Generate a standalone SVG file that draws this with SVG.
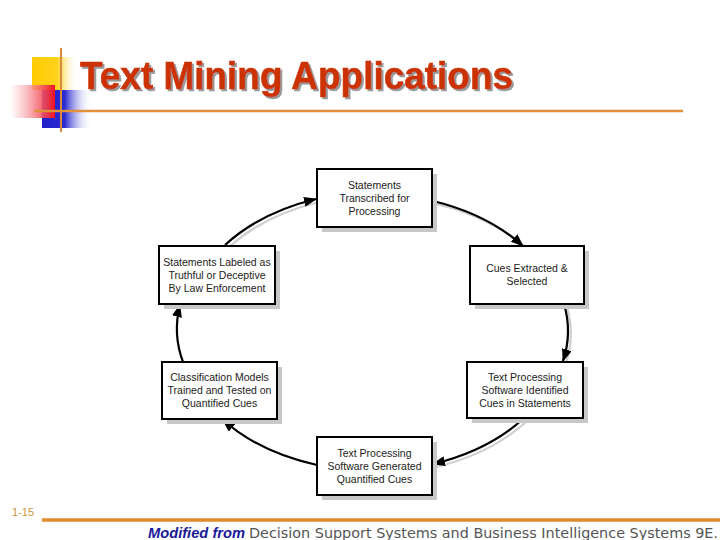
<svg xmlns="http://www.w3.org/2000/svg" width="720" height="540" viewBox="0 0 720 540">
<defs>
<style>
.box{fill:#fff;stroke:#000;stroke-width:2}
.shd{fill:#c8c8c8}
.lbl{font-family:"Liberation Sans",Arial,sans-serif;font-size:10.5px;fill:#222;text-anchor:middle}
.arc{fill:none;stroke:#000;stroke-width:2.2}
.arcs{fill:none;stroke:#cfcfcf;stroke-width:2.2}
</style>
<filter id="tshadow" x="-5%" y="-20%" width="110%" height="140%">
<feFlood flood-color="#999999" result="c"/>
<feComposite in="c" in2="SourceAlpha" operator="in" result="s"/>
<feOffset in="s" dx="2" dy="2" result="o"/>
<feMerge><feMergeNode in="o"/><feMergeNode in="SourceGraphic"/></feMerge>
</filter>
<linearGradient id="gy" x1="0" y1="0" x2="1" y2="0">
<stop offset="0" stop-color="#FFCC00"/><stop offset="0.55" stop-color="#FFD21A"/><stop offset="1" stop-color="#FFFFFF" stop-opacity="0"/>
</linearGradient>
<linearGradient id="gr" x1="0" y1="0" x2="1" y2="0">
<stop offset="0" stop-color="#FFFFFF" stop-opacity="0.6"/><stop offset="1" stop-color="#EE1122"/>
</linearGradient>
<linearGradient id="gb" x1="0" y1="0" x2="1" y2="0">
<stop offset="0" stop-color="#2222CC"/><stop offset="0.45" stop-color="#2a2ad0"/><stop offset="1" stop-color="#FFFFFF" stop-opacity="0"/>
</linearGradient>
<marker id="ah" viewBox="0 0 13 10" refX="12" refY="5" markerWidth="13" markerHeight="10" markerUnits="userSpaceOnUse" orient="auto">
<path d="M0,0 L13,5 L0,10 z" fill="#000"/>
</marker>
</defs>

<g id="logo">
<rect x="32" y="57" width="46" height="33" fill="url(#gy)"/>
<rect x="42" y="90" width="50" height="38" fill="url(#gb)"/>
<rect x="10" y="85" width="45" height="33" fill="url(#gr)"/>
<line x1="61" y1="48" x2="61" y2="132" stroke="#D98A3A" stroke-width="2"/>
<line x1="34" y1="111" x2="683" y2="111" stroke="#E0913A" stroke-width="2.5"/>
</g>

<g id="title">
<text x="80" y="89" font-family="Liberation Sans,Arial,sans-serif" font-weight="bold" font-size="38" fill="#CC3300" stroke="#CC3300" stroke-width="0.6" textLength="433" lengthAdjust="spacingAndGlyphs" filter="url(#tshadow)">Text Mining Applications</text>
</g>

<g id="connectors">
<path class="arcs" d="M228,248 A195 134 0 0 1 319,202"/>
<path class="arcs" d="M436,204 A195 134 0 0 1 526,248"/>
<path class="arcs" d="M567,307 A195 134 0 0 1 566,363"/>
<path class="arcs" d="M526,422 A195 134 0 0 1 436,467"/>
<path class="arc" d="M225,245 A195 134 0 0 1 316,199" marker-end="url(#ah)"/>
<path class="arc" d="M433,201 A195 134 0 0 1 523,246" marker-end="url(#ah)"/>
<path class="arc" d="M564,304 A195 134 0 0 1 563,361" marker-end="url(#ah)"/>
<path class="arc" d="M523,419 A195 134 0 0 1 433,464" marker-end="url(#ah)"/>
<path class="arc" d="M317,465 A195 134 0 0 1 223,420" marker-end="url(#ah)"/>
<path class="arc" d="M183,362 A195 134 0 0 1 180,305" marker-end="url(#ah)"/>
</g>

<g id="n1">
<rect class="shd" x="322" y="174" width="115" height="58"/>
<rect class="box" x="317" y="169" width="115" height="58"/>
<text class="lbl" x="374.5" y="189">Statements</text>
<text class="lbl" x="374.5" y="202">Transcribed for</text>
<text class="lbl" x="374.5" y="215">Processing</text>
</g>

<g id="n2">
<rect class="shd" x="475" y="251" width="114" height="58"/>
<rect class="box" x="470" y="246" width="114" height="58"/>
<text class="lbl" x="527" y="272">Cues Extracted &amp;</text>
<text class="lbl" x="527" y="285">Selected</text>
</g>

<g id="n3">
<rect class="shd" x="472" y="367" width="116" height="56"/>
<rect class="box" x="467" y="362" width="116" height="56"/>
<text class="lbl" x="525" y="381">Text Processing</text>
<text class="lbl" x="525" y="394">Software Identified</text>
<text class="lbl" x="525" y="407">Cues in Statements</text>
</g>

<g id="n4">
<rect class="shd" x="322" y="442" width="115" height="58"/>
<rect class="box" x="317" y="437" width="115" height="58"/>
<text class="lbl" x="374.5" y="457">Text Processing</text>
<text class="lbl" x="374.5" y="470">Software Generated</text>
<text class="lbl" x="374.5" y="483">Quantified Cues</text>
</g>

<g id="n5">
<rect class="shd" x="167" y="367" width="115" height="57"/>
<rect class="box" x="162" y="362" width="115" height="57"/>
<text class="lbl" x="219.5" y="381">Classification Models</text>
<text class="lbl" x="219.5" y="394">Trained and Tested on</text>
<text class="lbl" x="219.5" y="407">Quantified Cues</text>
</g>

<g id="n6">
<rect class="shd" x="164" y="251" width="116" height="58"/>
<rect class="box" x="159" y="246" width="116" height="58"/>
<text class="lbl" x="217" y="266">Statements Labeled as</text>
<text class="lbl" x="217" y="279">Truthful or Deceptive</text>
<text class="lbl" x="217" y="292">By Law Enforcement</text>
</g>

<g id="footer">
<text x="12" y="516" font-family="Liberation Sans,Arial,sans-serif" font-size="11" fill="#C8963C">1-15</text>
<line x1="42" y1="520" x2="720" y2="520" stroke="#E08A2E" stroke-width="3.5"/>
<text x="148" y="538" font-family="Liberation Sans,Arial,sans-serif" font-size="14" font-weight="bold" font-style="italic" fill="#1A1A99" textLength="97" lengthAdjust="spacingAndGlyphs">Modified from</text>
<text x="249" y="538" font-family="DejaVu Sans,sans-serif" font-size="14" fill="#555" textLength="469" lengthAdjust="spacingAndGlyphs">Decision Support Systems and Business Intelligence Systems 9E.</text>
</g>
</svg>
